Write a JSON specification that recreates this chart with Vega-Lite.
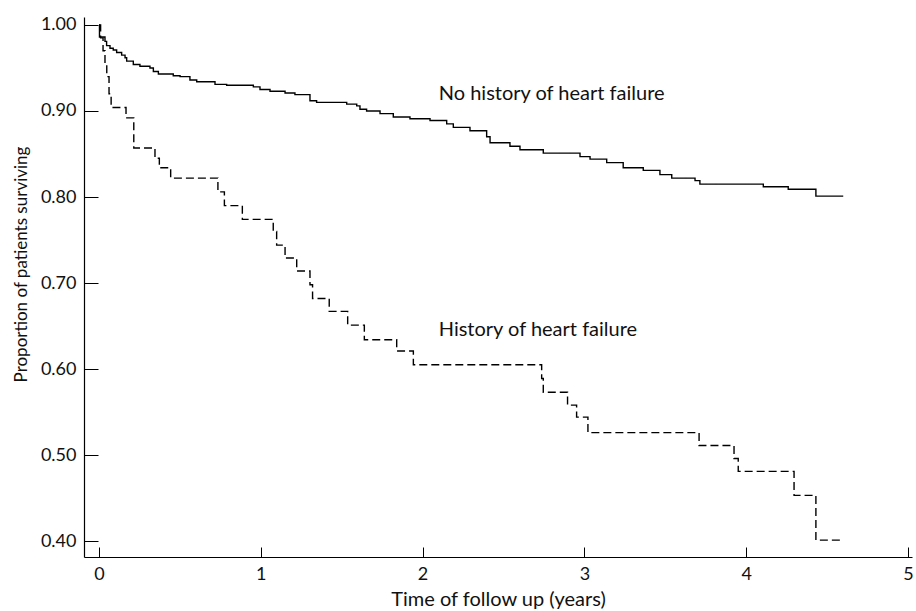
{
  "$schema": "https://vega.github.io/schema/vega-lite/v6.json",
  "width": 828,
  "height": 540,
  "autosize": {"type": "none"},
  "padding": {"left": 84, "top": 17, "right": 4, "bottom": 54},
  "background": "white",
  "config": {
    "view": {"stroke": null},
    "font": "Lato",
    "axis": {
      "domainColor": "black",
      "tickColor": "black",
      "labelColor": "#111111",
      "titleColor": "#111111",
      "grid": false,
      "labelFont": "Lato",
      "titleFont": "Lato",
      "labelFontSize": 18,
      "titleFontSize": 17,
      "titleFontWeight": "normal",
      "domainWidth": 1.2,
      "tickWidth": 1
    }
  },
  "datasets": {
    "km": [
      {"group": "No history of heart failure", "t": 0.000, "s": 1.000},
      {"group": "No history of heart failure", "t": 0.003, "s": 0.986},
      {"group": "No history of heart failure", "t": 0.037, "s": 0.981},
      {"group": "No history of heart failure", "t": 0.047, "s": 0.976},
      {"group": "No history of heart failure", "t": 0.068, "s": 0.973},
      {"group": "No history of heart failure", "t": 0.088, "s": 0.971},
      {"group": "No history of heart failure", "t": 0.109, "s": 0.968},
      {"group": "No history of heart failure", "t": 0.140, "s": 0.965},
      {"group": "No history of heart failure", "t": 0.161, "s": 0.962},
      {"group": "No history of heart failure", "t": 0.171, "s": 0.958},
      {"group": "No history of heart failure", "t": 0.212, "s": 0.954},
      {"group": "No history of heart failure", "t": 0.253, "s": 0.952},
      {"group": "No history of heart failure", "t": 0.315, "s": 0.950},
      {"group": "No history of heart failure", "t": 0.336, "s": 0.946},
      {"group": "No history of heart failure", "t": 0.367, "s": 0.943},
      {"group": "No history of heart failure", "t": 0.459, "s": 0.941},
      {"group": "No history of heart failure", "t": 0.501, "s": 0.940},
      {"group": "No history of heart failure", "t": 0.562, "s": 0.936},
      {"group": "No history of heart failure", "t": 0.604, "s": 0.934},
      {"group": "No history of heart failure", "t": 0.717, "s": 0.931},
      {"group": "No history of heart failure", "t": 0.789, "s": 0.930},
      {"group": "No history of heart failure", "t": 0.954, "s": 0.928},
      {"group": "No history of heart failure", "t": 0.995, "s": 0.925},
      {"group": "No history of heart failure", "t": 1.057, "s": 0.923},
      {"group": "No history of heart failure", "t": 1.150, "s": 0.921},
      {"group": "No history of heart failure", "t": 1.211, "s": 0.919},
      {"group": "No history of heart failure", "t": 1.304, "s": 0.912},
      {"group": "No history of heart failure", "t": 1.345, "s": 0.910},
      {"group": "No history of heart failure", "t": 1.531, "s": 0.908},
      {"group": "No history of heart failure", "t": 1.593, "s": 0.906},
      {"group": "No history of heart failure", "t": 1.613, "s": 0.902},
      {"group": "No history of heart failure", "t": 1.654, "s": 0.900},
      {"group": "No history of heart failure", "t": 1.737, "s": 0.897},
      {"group": "No history of heart failure", "t": 1.819, "s": 0.893},
      {"group": "No history of heart failure", "t": 1.922, "s": 0.891},
      {"group": "No history of heart failure", "t": 2.046, "s": 0.889},
      {"group": "No history of heart failure", "t": 2.149, "s": 0.885},
      {"group": "No history of heart failure", "t": 2.190, "s": 0.881},
      {"group": "No history of heart failure", "t": 2.293, "s": 0.877},
      {"group": "No history of heart failure", "t": 2.396, "s": 0.870},
      {"group": "No history of heart failure", "t": 2.417, "s": 0.863},
      {"group": "No history of heart failure", "t": 2.540, "s": 0.859},
      {"group": "No history of heart failure", "t": 2.602, "s": 0.855},
      {"group": "No history of heart failure", "t": 2.746, "s": 0.851},
      {"group": "No history of heart failure", "t": 2.973, "s": 0.847},
      {"group": "No history of heart failure", "t": 3.035, "s": 0.844},
      {"group": "No history of heart failure", "t": 3.138, "s": 0.840},
      {"group": "No history of heart failure", "t": 3.240, "s": 0.834},
      {"group": "No history of heart failure", "t": 3.364, "s": 0.831},
      {"group": "No history of heart failure", "t": 3.467, "s": 0.826},
      {"group": "No history of heart failure", "t": 3.540, "s": 0.822},
      {"group": "No history of heart failure", "t": 3.684, "s": 0.819},
      {"group": "No history of heart failure", "t": 3.714, "s": 0.815},
      {"group": "No history of heart failure", "t": 4.106, "s": 0.812},
      {"group": "No history of heart failure", "t": 4.260, "s": 0.809},
      {"group": "No history of heart failure", "t": 4.431, "s": 0.801},
      {"group": "No history of heart failure", "t": 4.600, "s": 0.801},
      {"group": "History of heart failure", "t": 0.000, "s": 1.000},
      {"group": "History of heart failure", "t": 0.010, "s": 0.985},
      {"group": "History of heart failure", "t": 0.025, "s": 0.970},
      {"group": "History of heart failure", "t": 0.037, "s": 0.955},
      {"group": "History of heart failure", "t": 0.048, "s": 0.940},
      {"group": "History of heart failure", "t": 0.062, "s": 0.920},
      {"group": "History of heart failure", "t": 0.075, "s": 0.904},
      {"group": "History of heart failure", "t": 0.167, "s": 0.892},
      {"group": "History of heart failure", "t": 0.215, "s": 0.857},
      {"group": "History of heart failure", "t": 0.346, "s": 0.845},
      {"group": "History of heart failure", "t": 0.373, "s": 0.834},
      {"group": "History of heart failure", "t": 0.443, "s": 0.822},
      {"group": "History of heart failure", "t": 0.735, "s": 0.806},
      {"group": "History of heart failure", "t": 0.775, "s": 0.790},
      {"group": "History of heart failure", "t": 0.886, "s": 0.774},
      {"group": "History of heart failure", "t": 1.077, "s": 0.760},
      {"group": "History of heart failure", "t": 1.098, "s": 0.744},
      {"group": "History of heart failure", "t": 1.150, "s": 0.729},
      {"group": "History of heart failure", "t": 1.222, "s": 0.714},
      {"group": "History of heart failure", "t": 1.304, "s": 0.698},
      {"group": "History of heart failure", "t": 1.320, "s": 0.682},
      {"group": "History of heart failure", "t": 1.423, "s": 0.667},
      {"group": "History of heart failure", "t": 1.537, "s": 0.651},
      {"group": "History of heart failure", "t": 1.640, "s": 0.634},
      {"group": "History of heart failure", "t": 1.840, "s": 0.621},
      {"group": "History of heart failure", "t": 1.943, "s": 0.605},
      {"group": "History of heart failure", "t": 2.736, "s": 0.589},
      {"group": "History of heart failure", "t": 2.746, "s": 0.573},
      {"group": "History of heart failure", "t": 2.896, "s": 0.558},
      {"group": "History of heart failure", "t": 2.952, "s": 0.544},
      {"group": "History of heart failure", "t": 3.022, "s": 0.526},
      {"group": "History of heart failure", "t": 3.709, "s": 0.511},
      {"group": "History of heart failure", "t": 3.925, "s": 0.496},
      {"group": "History of heart failure", "t": 3.951, "s": 0.481},
      {"group": "History of heart failure", "t": 4.296, "s": 0.453},
      {"group": "History of heart failure", "t": 4.431, "s": 0.401},
      {"group": "History of heart failure", "t": 4.584, "s": 0.401}
    ],
    "labels": [
      {"label": "No history of heart failure", "t": 2.10, "s": 0.9128},
      {"label": "History of heart failure", "t": 2.10, "s": 0.6384}
    ]
  },
  "layer": [
    {
      "data": {"name": "km"},
      "mark": {"type": "line", "interpolate": "step-after", "color": "black", "strokeWidth": 1.4},
      "encoding": {
        "x": {
          "field": "t",
          "type": "quantitative",
          "scale": {"domain": [-0.0927, 5.025], "nice": false, "zero": false},
          "axis": {"title": "Time of follow up (years)", "titleFontSize": 20, "values": [0, 1, 2, 3, 4, 5], "format": "d", "tickSize": -10, "labelPadding": 18, "titlePadding": 6}
        },
        "y": {
          "field": "s",
          "type": "quantitative",
          "scale": {"domain": [0.3814, 1.0093], "nice": false, "zero": false},
          "axis": {"title": "Proportion of patients surviving", "titleY": 247, "values": [0.4, 0.5, 0.6, 0.7, 0.8, 0.9, 1.0], "format": ".2f", "tickSize": -14, "labelPadding": 22, "titlePadding": 10}
        },
        "strokeDash": {
          "field": "group",
          "type": "nominal",
          "scale": {"domain": ["No history of heart failure", "History of heart failure"], "range": [[1, 0], [8, 4]]},
          "legend": null
        }
      }
    },
    {
      "data": {"name": "labels"},
      "mark": {"type": "text", "align": "left", "baseline": "alphabetic", "fontSize": 20, "font": "Lato", "color": "#111111"},
      "encoding": {
        "x": {"field": "t", "type": "quantitative"},
        "y": {"field": "s", "type": "quantitative"},
        "text": {"field": "label"}
      }
    }
  ]
}
